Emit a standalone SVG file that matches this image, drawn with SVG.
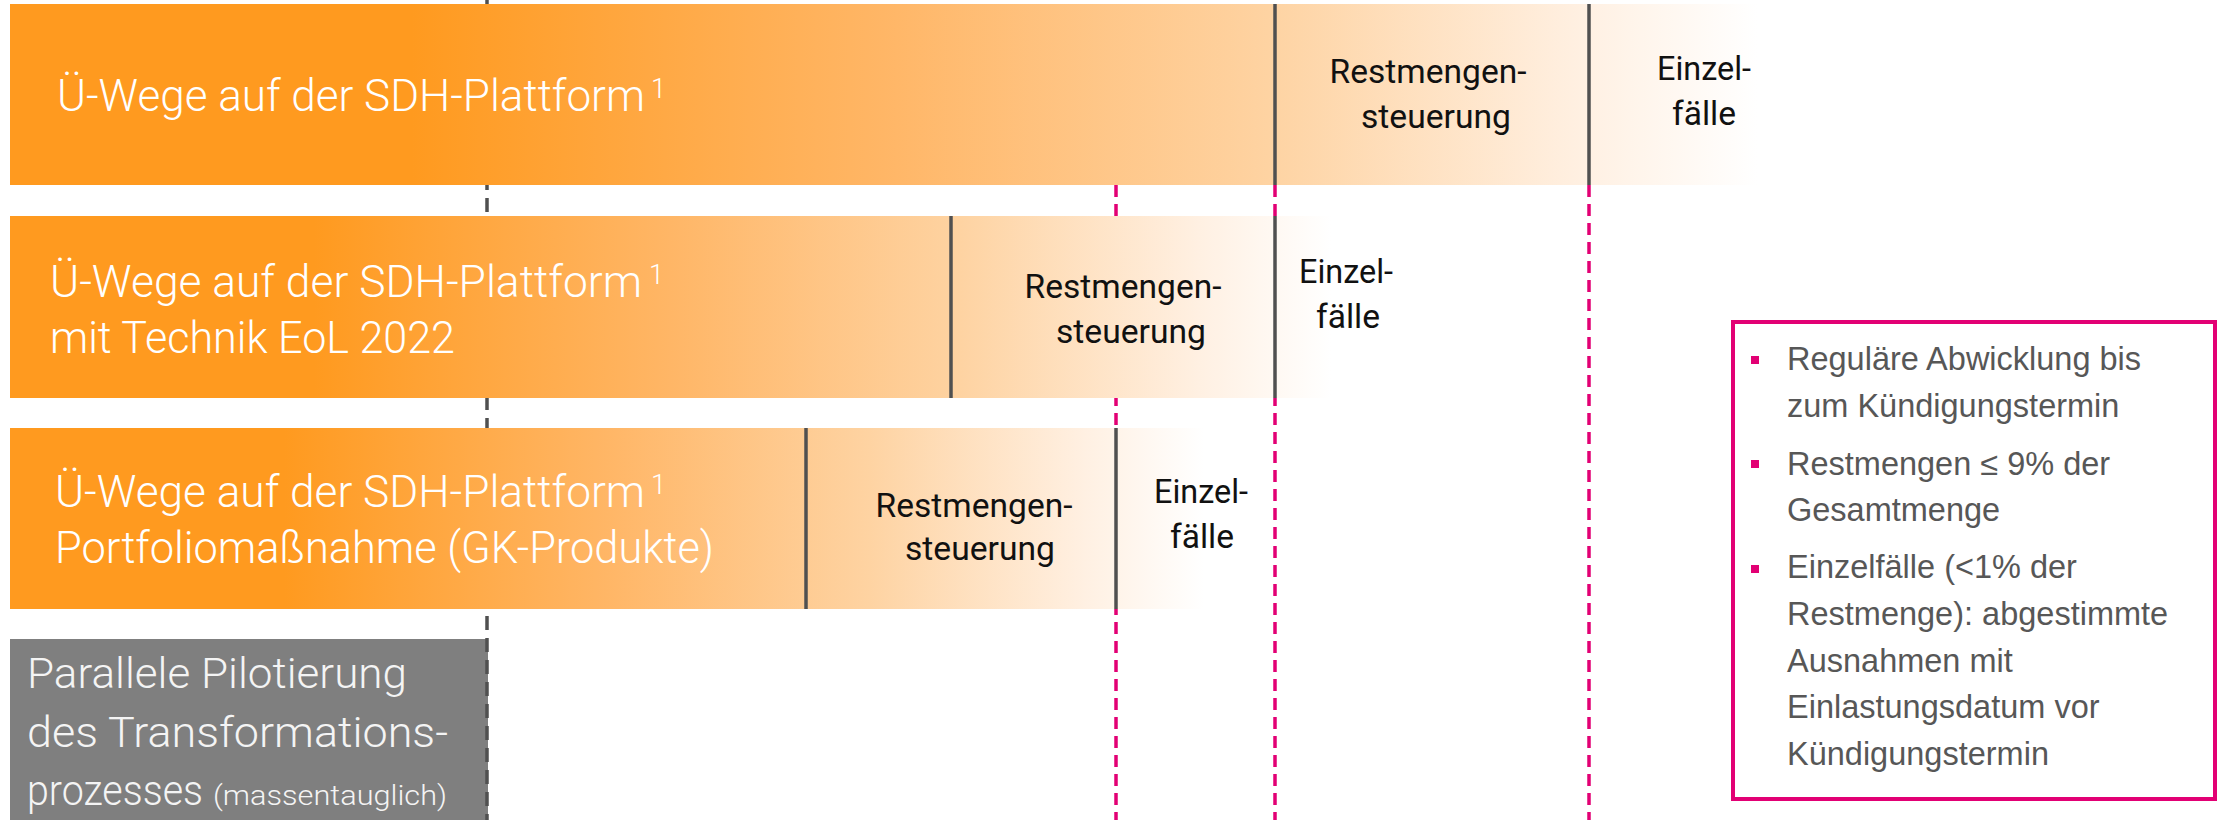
<svg xmlns="http://www.w3.org/2000/svg" width="2221" height="820" viewBox="0 0 2221 820">
  <defs>
    <linearGradient id="og" x1="0" y1="0" x2="1" y2="0">
      <stop offset="0" stop-color="#FF9A1F"/>
      <stop offset="0.23" stop-color="#FF9A1F"/>
      <stop offset="0.5" stop-color="#FFB666"/>
      <stop offset="0.72" stop-color="#FED3A2"/>
      <stop offset="0.9" stop-color="#FFF0E2"/>
      <stop offset="1" stop-color="#FFFFFF"/>
    </linearGradient>
  </defs>
  <style>
    .bar { fill: url(#og); }
    .div { stroke: #505050; stroke-width: 3.5; fill: none; }
    .main { font-family: Roboto, "Liberation Sans", sans-serif; font-weight: 300; font-size: 45px; fill: #FFFFFF; }
    .sup { font-family: Roboto, "Liberation Sans", sans-serif; font-weight: 300; font-size: 27px; fill: #FFFFFF; }
    .seg { font-family: Roboto, "Liberation Sans", sans-serif; font-size: 33px; fill: #111111; text-anchor: middle; }
    .gtext { font-family: Roboto, "Liberation Sans", sans-serif; font-weight: 300; font-size: 42px; fill: #F4F4F4; }
    .gsmall { font-family: Roboto, "Liberation Sans", sans-serif; font-weight: 300; font-size: 28px; fill: #F4F4F4; }
    .pink { stroke: #E20074; stroke-width: 3.5; stroke-dasharray: 12 7; fill: none; }
    .dark { stroke: #505050; stroke-width: 3.5; stroke-dasharray: 14 8; fill: none; }
    .note { font-family: "Liberation Sans", Arial, sans-serif; font-size: 32.5px; fill: #575757; }
    .bullet { fill: #E20074; }
  </style>
  <rect width="2221" height="820" fill="#FFFFFF"/>

  <g id="pilot">
    <rect x="10" y="639" width="478" height="181" fill="#7F7F7F"/>
    <text class="gtext" x="27" y="688" textLength="380" lengthAdjust="spacingAndGlyphs">Parallele Pilotierung</text>
    <text class="gtext" x="27" y="747" textLength="421" lengthAdjust="spacingAndGlyphs">des Transformations-</text>
    <text class="gtext" x="27" y="805"><tspan textLength="176" lengthAdjust="spacingAndGlyphs">prozesses</tspan><tspan class="gsmall" x="213" textLength="234" lengthAdjust="spacingAndGlyphs">(massentauglich)</tspan></text>
  </g>

  <g id="connectors">
    <line class="dark" x1="487" y1="0" x2="487" y2="820"/>
    <line class="pink" x1="1116" y1="185" x2="1116" y2="820"/>
    <line class="pink" x1="1275" y1="185" x2="1275" y2="820"/>
    <line class="pink" x1="1589" y1="185" x2="1589" y2="820"/>
  </g>

  <g id="bar1">
    <rect class="bar" x="10" y="4" width="1747" height="181"/>
    <line class="div" x1="1275" y1="4" x2="1275" y2="185"/>
    <line class="div" x1="1589" y1="4" x2="1589" y2="185"/>
    <text class="main" x="57" y="111" textLength="588" lengthAdjust="spacingAndGlyphs">Ü-Wege auf der SDH-Plattform</text>
    <text class="sup" x="651" y="98">1</text>
    <text class="seg" x="1428" y="83" textLength="197" lengthAdjust="spacingAndGlyphs">Restmengen-</text>
    <text class="seg" x="1436" y="128" textLength="150" lengthAdjust="spacingAndGlyphs">steuerung</text>
    <text class="seg" x="1704" y="80" textLength="94" lengthAdjust="spacingAndGlyphs">Einzel-</text>
    <text class="seg" x="1704" y="125" textLength="64" lengthAdjust="spacingAndGlyphs">fälle</text>
  </g>

  <g id="bar2">
    <rect class="bar" x="10" y="216" width="1321" height="182"/>
    <line class="div" x1="951" y1="216" x2="951" y2="398"/>
    <line class="div" x1="1275" y1="216" x2="1275" y2="398"/>
    <text class="main" x="50" y="297" textLength="592" lengthAdjust="spacingAndGlyphs">Ü-Wege auf der SDH-Plattform</text>
    <text class="sup" x="649" y="284">1</text>
    <text class="main" x="50" y="353" textLength="405" lengthAdjust="spacingAndGlyphs">mit Technik EoL 2022</text>
    <text class="seg" x="1123" y="298" textLength="197" lengthAdjust="spacingAndGlyphs">Restmengen-</text>
    <text class="seg" x="1131" y="343" textLength="150" lengthAdjust="spacingAndGlyphs">steuerung</text>
    <text class="seg" x="1346" y="283" textLength="94" lengthAdjust="spacingAndGlyphs">Einzel-</text>
    <text class="seg" x="1348" y="328" textLength="64" lengthAdjust="spacingAndGlyphs">fälle</text>
  </g>

  <g id="bar3">
    <rect class="bar" x="10" y="428" width="1194" height="181"/>
    <line class="div" x1="806" y1="428" x2="806" y2="609"/>
    <line class="div" x1="1116" y1="428" x2="1116" y2="609"/>
    <text class="main" x="55" y="507" textLength="590" lengthAdjust="spacingAndGlyphs">Ü-Wege auf der SDH-Plattform</text>
    <text class="sup" x="651" y="494">1</text>
    <text class="main" x="55" y="563" textLength="659" lengthAdjust="spacingAndGlyphs">Portfoliomaßnahme (GK-Produkte)</text>
    <text class="seg" x="974" y="517" textLength="197" lengthAdjust="spacingAndGlyphs">Restmengen-</text>
    <text class="seg" x="980" y="560" textLength="150" lengthAdjust="spacingAndGlyphs">steuerung</text>
    <text class="seg" x="1201" y="503" textLength="94" lengthAdjust="spacingAndGlyphs">Einzel-</text>
    <text class="seg" x="1202" y="548" textLength="64" lengthAdjust="spacingAndGlyphs">fälle</text>
  </g>

  <g id="legend">
    <rect x="1733" y="322" width="482" height="477" fill="#FFFFFF" stroke="#E20074" stroke-width="4"/>
    <rect class="bullet" x="1751" y="356" width="8" height="8"/>
    <rect class="bullet" x="1751" y="460" width="8" height="8"/>
    <rect class="bullet" x="1751" y="565" width="8" height="8"/>
    <text class="note" x="1787" y="370">Reguläre Abwicklung bis</text>
    <text class="note" x="1787" y="417">zum Kündigungstermin</text>
    <text class="note" x="1787" y="475">Restmengen ≤ 9% der</text>
    <text class="note" x="1787" y="521">Gesamtmenge</text>
    <text class="note" x="1787" y="578">Einzelfälle (&lt;1% der</text>
    <text class="note" x="1787" y="625">Restmenge): abgestimmte</text>
    <text class="note" x="1787" y="672">Ausnahmen mit</text>
    <text class="note" x="1787" y="718">Einlastungsdatum vor</text>
    <text class="note" x="1787" y="765">Kündigungstermin</text>
  </g>
</svg>
